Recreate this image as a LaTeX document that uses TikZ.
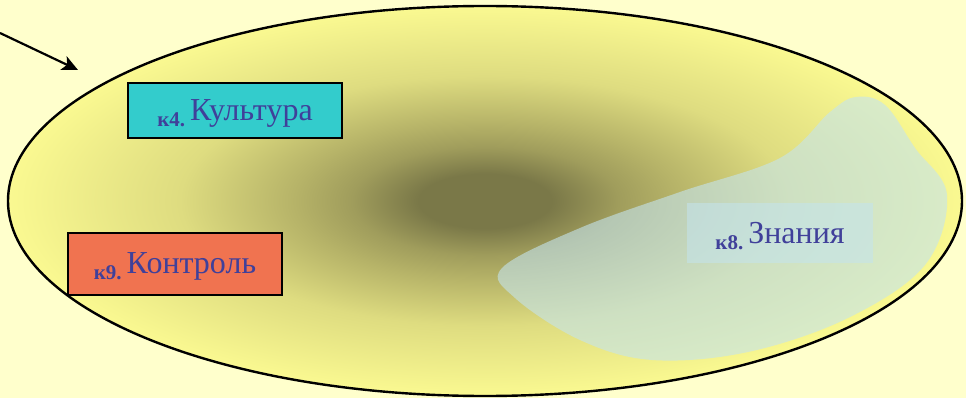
\documentclass[tikz,border=0pt]{standalone}
\usepackage{fontspec}
\setmainfont{Liberation Serif}
\usetikzlibrary{arrows.meta}
\definecolor{bgc}{RGB}{255,255,204}
\definecolor{ellc}{RGB}{250,249,145}
\definecolor{spotc}{RGB}{122,120,72}
\definecolor{spota}{RGB}{160,157,92}
\definecolor{spotb}{RGB}{182,179,104}
\definecolor{spotd}{RGB}{222,220,128}
\definecolor{txtc}{RGB}{64,64,154}
\definecolor{tealc}{RGB}{51,204,204}
\definecolor{orgc}{RGB}{240,115,80}
\definecolor{blobc}{RGB}{196,228,238}
\pgfdeclareradialshading{darkspot}{\pgfpoint{0bp}{0bp}}{color(0bp)=(spotc); color(3.5bp)=(spotc); color(7bp)=(spota); color(10bp)=(spotb); color(16bp)=(spotd); color(25bp)=(ellc); color(50bp)=(ellc)}
\newcommand{\ksmall}[1]{\raisebox{-6pt}{\fontsize{21}{21}\selectfont\bfseries #1}}
\newcommand{\kbig}[1]{{\fontsize{32}{32}\selectfont #1}}
\begin{document}
\begin{tikzpicture}[x=1pt,y=-1pt,
  kbox/.style={draw=black, line width=2pt, inner sep=0pt, text=txtc, text height=24pt, text depth=4pt},
  kfaint/.style={fill=blobc, fill opacity=0.55, draw=none, inner sep=0pt, text=txtc, text opacity=1, text height=24pt, text depth=4pt},
  ptr/.style={line width=2.2pt, -{Stealth[length=16pt,width=15pt,inset=4pt]}}]
\useasboundingbox (0,0) rectangle (966,398);
\fill[bgc] (0,0) rectangle (966,398);
\shade[shading=darkspot] (485,201) ellipse [x radius=477, y radius=195];
\fill[blobc, opacity=0.6] plot[smooth cycle, tension=0.6] coordinates {
  (502,268) (580,228) (680,192) (780,158) (830,112) (856,97) (885,105)
  (915,148) (947,195) (925,265) (848,318) (748,352) (652,360) (580,340) (515,298)};
\draw[line width=2.4pt] (485,201) ellipse [x radius=477, y radius=195];
\node[kbox, fill=tealc, minimum width=214pt, minimum height=55pt] (k4) at (235,110.5) {\ksmall{к4.}\hspace{5pt}\kbig{Культура}};
\node[kbox, fill=orgc, minimum width=214pt, minimum height=62pt, text height=22pt] (k9) at (175,264) {\ksmall{к9.}\hspace{5pt}\kbig{Контроль}};
\node[kfaint, minimum width=186pt, minimum height=60pt] (k8) at (780,233) {\ksmall{к8.}\hspace{5pt}\kbig{Знания}};
\coordinate (as) at (0,33);
\coordinate (ae) at (78,70);
\draw[ptr] (as) -- (ae);
\end{tikzpicture}
\end{document}
